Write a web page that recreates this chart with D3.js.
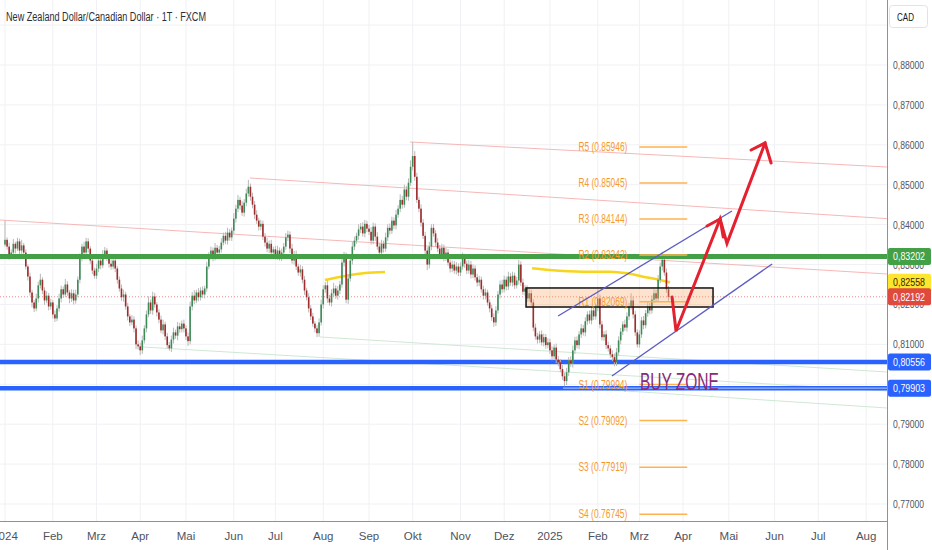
<!DOCTYPE html>
<html>
<head>
<meta charset="utf-8">
<script src="https://cdn.jsdelivr.net/npm/d3@7"></script>
<style>
  html, body { margin: 0; padding: 0; background: #fff; }
  svg { display: block; font-family: "Liberation Sans Narrow", "Liberation Sans", Roboto, sans-serif; }
</style>
</head>
<body>
<svg id="chart" width="932" height="550"></svg>
<script>
// daily candles, prices in pips (price * 10000), one value per trading day from 1 Jan 2024
const firstOpen = 8350;
const closes = [
  // Jan 2024
  8362,8345,8322,8330,8352,8340,8358,8335,8348,8330,8295,8270,8230,8205,8190,8215,8248,8262,8235,8210,8222,8195,8205,
  // Feb
  8175,8165,8190,8215,8238,8225,8250,8230,8215,8228,8210,8225,8262,8318,8345,8330,8358,8340,8310,8285,8272,
  // Mar
  8290,8310,8298,8322,8335,8318,8302,8295,8310,8290,8262,8240,8218,8225,8195,8170,8155,8162,8140,8100,8095,
  // Apr
  8085,8110,8140,8175,8205,8185,8220,8200,8180,8162,8135,8150,8120,8098,8090,8112,8130,8122,8145,8138,8152,8140,
  // May
  8120,8108,8195,8222,8210,8230,8218,8235,8225,8240,8295,8322,8335,8318,8342,8330,8338,8355,8372,8360,8380,8368,8385,
  // Jun
  8415,8440,8462,8448,8430,8455,8478,8495,8470,8450,8425,8410,8395,8402,8370,8355,8340,8352,8330,8338,
  // Jul
  8322,8335,8318,8330,8345,8368,8375,8340,8310,8325,8295,8280,8288,8262,8235,8218,8190,8170,8152,8140,8128,8155,8200,
  // Aug
  8238,8248,8215,8205,8228,8240,8222,8235,8250,8305,8322,8212,8265,8310,8345,8360,8372,8388,8395,8378,8402,8390,
  // Sep
  8382,8360,8395,8370,8345,8330,8352,8340,8368,8392,8385,8410,8398,8425,8440,8462,8450,8488,8470,8505,8545,
  // Oct
  8572,8520,8462,8440,8405,8372,8335,8300,8345,8392,8378,8355,8340,8325,8342,8318,8330,8305,8290,8300,8285,8295,8280,
  // Nov
  8295,8318,8302,8285,8300,8275,8290,8268,8255,8262,8238,8222,8230,8205,8190,8168,8155,8185,8225,8250,8238,
  // Dec
  8262,8245,8270,8255,8272,8248,8260,8300,8255,8232,8240,8215,8228,8205,8142,8120,8112,8125,8105,8118,8098,8105,
  // Jan 2025
  8085,8070,8092,8062,8055,8038,8020,8008,8030,8060,8052,8085,8110,8098,8125,8140,8130,8158,8175,8160,8185,8170,8192,
  // Feb
  8215,8150,8118,8125,8098,8090,8075,8068,8055,8080,8110,8132,8150,8142,8170,8195,8210,8175,8130,8100,
  // Mar
  8125,8160,8148,8178,8195,8185,8212,8228,8215,8262,8295,8312,8280,8238,8219
];
// upper / lower shadow length of each candle, in pips
const upWick = [
  48,6,10,8,12,5,9,7,14,6,8,5,10,7,6,12,9,15,6,8,11,7,9,
  6,10,8,12,9,7,14,8,6,10,9,12,8,10,7,12,9,8,6,10,7,
  12,8,10,14,9,6,8,11,7,9,6,8,10,12,7,9,6,11,8,7,10,
  9,12,8,10,15,7,12,9,6,8,10,12,7,9,8,10,12,7,11,9,8,10,
  8,10,12,9,14,7,11,8,10,7,12,9,10,8,12,7,9,11,8,10,12,9,8,
  14,10,12,8,11,9,12,17,8,10,9,11,7,10,8,9,12,8,10,7,
  9,12,8,10,9,11,10,8,12,9,10,7,11,8,9,7,10,8,9,6,8,10,12,
  10,8,12,9,10,14,8,11,9,12,10,8,11,9,12,10,8,13,9,11,10,8,
  9,12,10,8,11,9,10,8,12,9,11,10,8,12,9,14,10,12,9,11,16,
  35,12,10,8,11,9,10,8,12,9,10,8,11,9,10,8,12,9,8,10,9,11,8,
  10,12,9,8,11,9,10,8,9,10,8,9,10,7,8,9,10,11,9,10,12,
  10,8,12,9,10,8,9,12,8,10,9,8,10,9,8,10,9,8,10,9,8,10,
  9,10,8,10,9,8,10,9,11,8,10,12,9,10,8,11,9,10,8,10,9,11,10,
  23,10,9,8,10,9,8,10,9,11,10,9,8,12,10,9,18,10,9,8,
  10,9,11,8,10,9,11,10,9,12,10,20,9,10,8
];
const loWick = [
  5,8,10,7,9,12,6,10,8,9,7,10,8,12,9,7,10,8,9,11,7,10,8,
  10,9,7,8,10,9,7,8,12,9,10,8,7,9,10,8,9,10,8,9,7,
  8,9,10,7,8,9,10,8,7,9,10,8,9,11,8,10,9,7,10,12,8,
  12,9,8,10,7,9,11,8,10,9,7,10,9,8,6,9,10,8,12,9,8,10,
  9,12,8,10,9,7,10,8,9,10,8,7,9,10,8,9,10,8,7,9,10,8,9,
  8,10,9,11,8,10,9,8,10,9,11,8,10,9,8,10,9,11,8,10,
  9,10,8,9,10,8,9,11,8,10,9,8,10,9,11,8,10,9,8,10,10,9,8,
  10,9,11,8,10,9,8,10,9,8,10,9,11,8,10,9,8,10,9,8,10,9,
  8,10,9,11,8,12,9,10,8,9,10,8,9,10,8,9,10,8,9,10,8,
  9,10,8,9,10,8,9,14,10,9,8,10,9,11,8,10,9,8,10,9,8,10,9,
  9,8,10,9,8,10,9,8,10,9,8,10,9,8,10,9,11,9,8,10,9,
  8,10,9,8,10,9,8,10,9,8,10,9,8,10,9,8,10,9,8,10,9,8,
  9,10,8,9,10,8,9,13,10,9,8,10,9,8,10,9,8,10,9,8,10,9,8,
  9,10,8,9,10,8,9,10,10,9,8,10,9,8,10,9,8,10,9,8,
  8,9,10,8,9,10,8,9,10,8,9,10,8,9,10
];

const monthLabels = ["2024","Feb","Mrz","Apr","Mai","Jun","Jul","Aug","Sep","Okt","Nov","Dez",
                     "2025","Feb","Mrz","Apr","Mai","Jun","Jul","Aug"];
const priceTicks = [0.77,0.78,0.79,0.80,0.81,0.82,0.83,0.84,0.85,0.86,0.87,0.88,0.89];

const resistanceLevel = 0.83202;
const supportLevels = [0.80556, 0.79903];
const lastPrice = 0.82192;
const maPrice = 0.82558;

// pivot points (yearly), drawn from bar 305 to 328
const pivotNames  = ["R5","R4","R3","R2","R1","S1","S2","S3","S4"];
const pivotValues = [0.85946,0.85045,0.84144,0.83242,0.82069,0.79994,0.79092,0.77919,0.76745];
const pivotSpan = [305, 328];

// drawings: [bar index, price]
const maSegments = [
  [[153.8,0.82613],[163.5,0.82713],[173.1,0.82788],[182.7,0.82813]],
  [[253.4,0.82906],[261.8,0.82863],[277.9,0.82821],[290.9,0.82821],[299.0,0.82781],[306.7,0.82696],[314.9,0.82613],[319.7,0.82555]]
];
const redTrendlines = [
  [[-2.4,0.84116],[424,0.82763]],
  [[117.8,0.85169],[424,0.84151]],
  [[194.7,0.86071],[424,0.85444]]
];
const greenTrendlines = [
  [[151.4,0.81185],[424,0.80308]],
  [[66.3,0.80934],[424,0.79832]],
  [[269.2,0.79931],[424,0.79406]]
];
const channelLines = [
  [[265.9,0.81711],[349.5,0.84342]],
  [[291.8,0.80208],[368.8,0.83014]]
];
const zoneBox = { from: 250.5, to: 340.4, top: 0.82413, bottom: 0.81936 };
const arrowPath = [[320.7,0.82187],[322.6,0.81336],[343.8,0.84141],[347.1,0.83531],[365.4,0.86046]];
const arrowHeads = [
  [[337.5,0.83966],[343.8,0.84141],[345.3,0.83691]],
  [[358.7,0.85870],[365.4,0.86046],[368.3,0.85544]]
];

const W = 932, H = 550, plotR = 887, plotB = 521;
const svg = d3.select("#chart");

const x = d3.scaleLinear().domain([0, 424]).range([5, 5 + 424 * 2.08]);
const y = d3.scaleLinear().domain([0.77, 0.88]).range([504, 65]);
const fmt = v => d3.format(".5f")(v).replace(".", ",");
const line = d3.line().x(d => x(d[0])).y(d => y(d[1]));

// trading days (weekdays) for the time axis
const days = [];
for (let d = new Date(2024, 0, 1); days.length < 425; d.setDate(d.getDate() + 1)) {
  const wd = d.getDay();
  if (wd > 0 && wd < 6) days.push(new Date(d));
}
const monthStarts = [];
days.forEach((d, i) => {
  if (i === 0 || d.getMonth() !== days[i - 1].getMonth()) monthStarts.push(i);
});

const plot = svg.append("g");
plot.append("defs").append("clipPath").attr("id", "clip")
  .append("rect").attr("width", plotR).attr("height", plotB);
const g = plot.append("g").attr("clip-path", "url(#clip)");

// grid
g.selectAll(".vgrid").data(monthStarts).join("line")
  .attr("x1", d => x(d)).attr("x2", d => x(d)).attr("y1", 0).attr("y2", plotB)
  .attr("stroke", "#f0f1f4").attr("stroke-width", 1);
g.selectAll(".hgrid").data(priceTicks).join("line")
  .attr("x1", 0).attr("x2", plotR).attr("y1", d => y(d)).attr("y2", d => y(d))
  .attr("stroke", "#f0f1f4").attr("stroke-width", 1);

// thin trendlines
g.selectAll(".rt").data(redTrendlines).join("path")
  .attr("d", line).attr("fill", "none").attr("stroke", "#f7b7b7").attr("stroke-width", 1);
g.selectAll(".gt").data(greenTrendlines).join("path")
  .attr("d", line).attr("fill", "none").attr("stroke", "#cfe8d3").attr("stroke-width", 1);

// current price dotted line
g.append("line").attr("x1", 0).attr("x2", plotR).attr("y1", y(lastPrice)).attr("y2", y(lastPrice))
  .attr("stroke", "#f08a8a").attr("stroke-width", 1).attr("stroke-dasharray", "1,2");

// moving average segments
g.selectAll(".ma").data(maSegments).join("path")
  .attr("d", line.curve(d3.curveMonotoneX)).attr("fill", "none")
  .attr("stroke", "#f7d51d").attr("stroke-width", 2.5);
line.curve(d3.curveLinear);

// support levels
g.selectAll(".sup").data(supportLevels).join("line")
  .attr("x1", 0).attr("x2", plotR).attr("y1", d => y(d)).attr("y2", d => y(d))
  .attr("stroke", "#2962ff").attr("stroke-width", 4.5);
g.append("line").attr("x1", 563).attr("x2", plotR)
  .attr("y1", y(supportLevels[1])).attr("y2", y(supportLevels[1]))
  .attr("stroke", "#9db8ff").attr("stroke-width", 1.2);

// candles
const candles = closes.map((c, i) => {
  const o = i === 0 ? firstOpen : closes[i - 1];
  return { i, o: o / 1e4, c: c / 1e4,
           h: (Math.max(o, c) + (upWick[i] || 0)) / 1e4,
           l: (Math.min(o, c) - (loWick[i] || 0)) / 1e4 };
});
g.selectAll(".wick").data(candles).join("line")
  .attr("x1", d => x(d.i)).attr("x2", d => x(d.i))
  .attr("y1", d => y(d.h)).attr("y2", d => y(d.l))
  .attr("stroke", "#b8b8b8").attr("stroke-width", 1);
g.selectAll(".body").data(candles).join("rect")
  .attr("x", d => x(d.i) - 0.8).attr("width", 1.6)
  .attr("y", d => y(Math.max(d.o, d.c)))
  .attr("height", d => Math.max(0.8, Math.abs(y(d.o) - y(d.c))))
  .attr("fill", d => d.c >= d.o ? "#3d8c57" : "#a12b2b");

// resistance level
g.append("line").attr("x1", 0).attr("x2", plotR)
  .attr("y1", y(resistanceLevel)).attr("y2", y(resistanceLevel))
  .attr("stroke", "#43a047").attr("stroke-width", 5);

// zone box
g.append("rect")
  .attr("x", x(zoneBox.from)).attr("width", x(zoneBox.to) - x(zoneBox.from))
  .attr("y", y(zoneBox.top)).attr("height", y(zoneBox.bottom) - y(zoneBox.top))
  .attr("fill", "#f7a35c").attr("fill-opacity", 0.3)
  .attr("stroke", "#111").attr("stroke-width", 1.5);

// pivots
const pivots = pivotNames.map((n, k) => ({ n, v: pivotValues[k] }));
g.selectAll(".pv").data(pivots).join("line")
  .attr("x1", x(pivotSpan[0])).attr("x2", x(pivotSpan[1]))
  .attr("y1", d => y(d.v)).attr("y2", d => y(d.v))
  .attr("stroke", "#ffb24d").attr("stroke-width", 1.5);
g.selectAll(".pvt").data(pivots).join("text")
  .attr("x", x(pivotSpan[0]) - 12).attr("y", d => y(d.v) + 4)
  .attr("text-anchor", "end").attr("font-size", 12).attr("fill", "#f59a2f")
  .attr("textLength", 49).attr("lengthAdjust", "spacingAndGlyphs")
  .text(d => `${d.n} (${d.v.toFixed(5)})`);

// rising channel
g.selectAll(".ch").data(channelLines).join("path")
  .attr("d", line).attr("fill", "none").attr("stroke", "#5b5cc4").attr("stroke-width", 1.3);

// projected path
g.append("path").attr("d", line(arrowPath)).attr("fill", "none")
  .attr("stroke", "#e3212f").attr("stroke-width", 3).attr("stroke-linejoin", "miter").attr("stroke-linecap", "round");
g.selectAll(".ah").data(arrowHeads).join("path")
  .attr("d", line).attr("fill", "none")
  .attr("stroke", "#e3212f").attr("stroke-width", 3).attr("stroke-linecap", "round");

// BUY ZONE label
g.append("text").attr("x", x(pivotSpan[0]) + 0.5).attr("y", y(supportLevels[1]) + 1.5)
  .attr("font-size", 24).attr("fill", "#8a2a78").attr("textLength", 79)
  .attr("lengthAdjust", "spacingAndGlyphs").text("BUY ZONE");

// axes frame
svg.append("line").attr("x1", plotR + 0.5).attr("x2", plotR + 0.5).attr("y1", 0).attr("y2", H)
  .attr("stroke", "#8f9199").attr("stroke-width", 1);
svg.append("line").attr("x1", 0).attr("x2", plotR).attr("y1", plotB + 0.5).attr("y2", plotB + 0.5)
  .attr("stroke", "#8f9199").attr("stroke-width", 1);

// price axis
svg.selectAll(".pt").data(priceTicks.filter(v => v < 0.885)).join("text")
  .attr("x", plotR + 6).attr("y", d => y(d) + 4)
  .attr("font-size", 11).attr("fill", "#50535e")
  .attr("textLength", 31).attr("lengthAdjust", "spacingAndGlyphs").text(fmt);

// time axis
svg.selectAll(".mt").data(monthStarts).join("text")
  .attr("x", d => x(d)).attr("y", 540).attr("text-anchor", "middle")
  .attr("font-size", 11.5).attr("fill", "#50535e")
  .text((d, k) => monthLabels[k]);

// price tags
const tags = [
  { v: resistanceLevel, bg: "#43a047", fg: "#fff" },
  { v: maPrice, bg: "#ffe62e", fg: "#3a1d00" },
  { v: lastPrice, bg: "#e04a3d", fg: "#fff" },
  { v: supportLevels[0], bg: "#2962ff", fg: "#fff" },
  { v: supportLevels[1], bg: "#2962ff", fg: "#fff" }
];
const tg = svg.selectAll(".tag").data(tags).join("g")
  .attr("transform", d => `translate(${plotR + 1},${y(d.v)})`);
tg.append("rect").attr("x", 0).attr("y", -8.5).attr("width", 43).attr("height", 17)
  .attr("rx", 2).attr("fill", d => d.bg);
tg.append("text").attr("x", 5).attr("y", 4).attr("font-size", 11)
  .attr("textLength", 32).attr("lengthAdjust", "spacingAndGlyphs")
  .attr("fill", d => d.fg).text(d => fmt(d.v));

// currency box
svg.append("rect").attr("x", 889.5).attr("y", 5.5).attr("width", 38).attr("height", 22).attr("rx", 3)
  .attr("fill", "#fff").attr("stroke", "#e0e3eb");
svg.append("text").attr("x", 897).attr("y", 20.5).attr("font-size", 11).attr("fill", "#131722")
  .attr("textLength", 17).attr("lengthAdjust", "spacingAndGlyphs").text("CAD");

// title
svg.append("text").attr("x", 6).attr("y", 21).attr("font-size", 12.5).attr("fill", "#2a2e39")
  .attr("textLength", 200).attr("lengthAdjust", "spacingAndGlyphs")
  .text("New Zealand Dollar/Canadian Dollar · 1T · FXCM");
</script>
</body>
</html>
